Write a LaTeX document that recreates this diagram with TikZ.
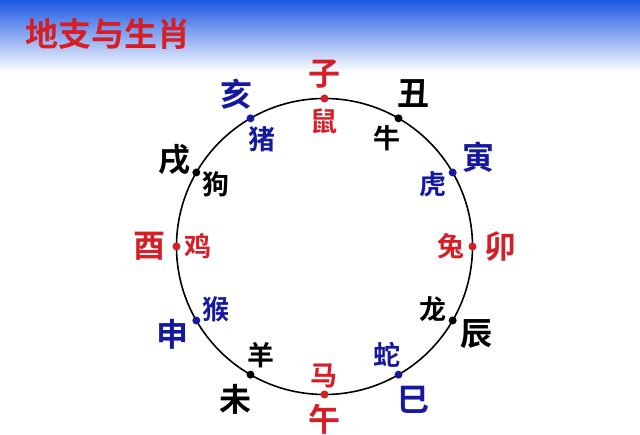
\documentclass[tikz,border=0pt]{standalone}
\usepackage{fontspec}
\newfontfamily\cjk{Noto Sans CJK SC}[BoldFont={Noto Sans CJK SC Bold}]
\definecolor{zired}{RGB}{214,30,38}
\definecolor{ziblue}{RGB}{20,25,160}
\definecolor{hdblue}{RGB}{28,88,228}
\tikzset{
  branch/.style = {font=\cjk\bfseries\fontsize{32}{32}\selectfont, inner sep=0pt},
  animal/.style = {font=\cjk\bfseries\fontsize{27}{27}\selectfont, inner sep=0pt},
  dotmark/.style = {circle, fill, inner sep=0pt, minimum size=8pt}
}
\begin{document}
\begin{tikzpicture}[x=1pt, y=1pt]
\useasboundingbox (-324.5,-188.5) rectangle (315.5,246.5);
\shade[top color=hdblue, bottom color=white] (-324.5,246.5) rectangle (315.5,174);
\node[font=\cjk\bfseries\fontsize{33}{33}\selectfont, text=zired, inner sep=0pt] (title) at (-216.5,212.5) {地支与生肖};
\coordinate (o) at (0,0);
\draw[line width=1.6pt] (o) circle [radius=148];
% points on the circle
\node[dotmark, zired] (p-zi) at (90:148) {};
\node[dotmark] (p-chou) at (60:148) {};
\node[dotmark, ziblue] (p-yin) at (30:148) {};
\node[dotmark, zired] (p-mao) at (0:148) {};
\node[dotmark] (p-chen) at (-30:148) {};
\node[dotmark, ziblue] (p-si) at (-60:148) {};
\node[dotmark, zired] (p-wu) at (-90:148) {};
\node[dotmark] (p-wei) at (-120:148) {};
\node[dotmark, ziblue] (p-shen) at (-150:148) {};
\node[dotmark, zired] (p-you) at (180:148) {};
\node[dotmark] (p-xu) at (150:148) {};
\node[dotmark, ziblue] (p-hai) at (120:148) {};
% earthly branches
\node[branch, zired] (b-zi) at (90:172) {子};
\node[branch] (b-chou) at (60:177) {丑};
\node[branch, ziblue] (b-yin) at (30:178) {寅};
\node[branch, zired] (b-mao) at (0:176) {卯};
\node[branch] (b-chen) at (-30:175) {辰};
\node[branch, ziblue] (b-si) at (-60:177) {巳};
\node[branch, zired] (b-wu) at (-90:173) {午};
\node[branch] (b-wei) at (-120:177) {未};
\node[branch, ziblue] (b-shen) at (-150:175) {申};
\node[branch, zired] (b-you) at (180:175) {酉};
\node[branch] (b-xu) at (150:173) {戌};
\node[branch, ziblue] (b-hai) at (120:176) {亥};
% animals
\node[animal, zired] (a-shu) at (90:125) {鼠};
\node[animal] (a-niu) at (60:125) {牛};
\node[animal, ziblue] (a-hu) at (30:125) {虎};
\node[animal, zired] (a-tu) at (0:126) {兔};
\node[animal] (a-long) at (-30:125) {龙};
\node[animal, ziblue] (a-she) at (-60:125) {蛇};
\node[animal, zired] (a-ma) at (-90:129) {马};
\node[animal] (a-yang) at (-120:126) {羊};
\node[animal, ziblue] (a-hou) at (-150:125) {猴};
\node[animal, zired] (a-ji) at (180:126) {鸡};
\node[animal] (a-gou) at (150:125) {狗};
\node[animal, ziblue] (a-zhu) at (120:124) {猪};
\end{tikzpicture}
\end{document}
